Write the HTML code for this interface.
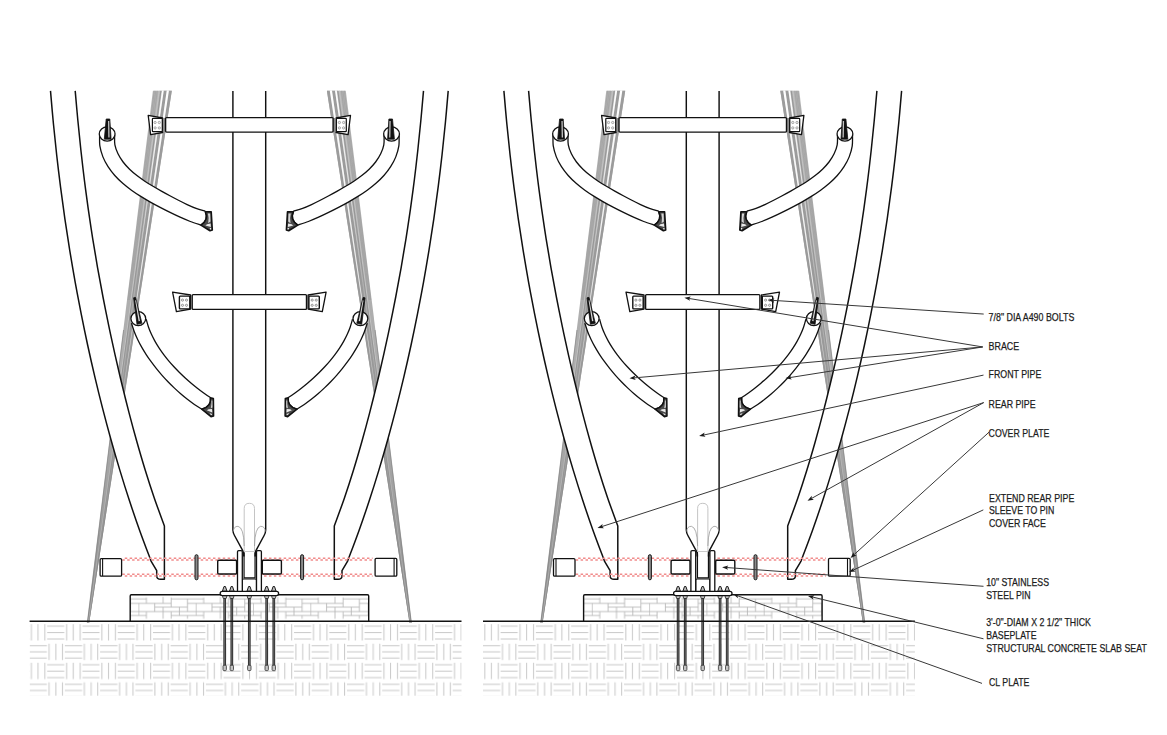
<!DOCTYPE html>
<html><head><meta charset="utf-8"><title>Tower base detail</title>
<style>
html,body{margin:0;padding:0;background:#fff;}
body{width:1167px;height:735px;overflow:hidden;font-family:"Liberation Sans",sans-serif;}
svg{display:block;}
svg text{font-family:"Liberation Sans",sans-serif;font-size:10.8px;fill:#1c1c1c;stroke:#1c1c1c;stroke-width:0.25px;}
</style></head>
<body>
<svg width="1167" height="735" viewBox="0 0 1167 735">
<defs>
<linearGradient id="gg1" gradientUnits="userSpaceOnUse" x1="0" y1="90" x2="0" y2="285"><stop offset="0" stop-color="#fff"/><stop offset="0.5" stop-color="#e6e6e6"/><stop offset="1" stop-color="#c4c4c4"/></linearGradient>
<linearGradient id="gg2" gradientUnits="userSpaceOnUse" x1="0" y1="90" x2="0" y2="400"><stop offset="0" stop-color="#fff"/><stop offset="0.6" stop-color="#efefef"/><stop offset="1" stop-color="#c0c0c0"/></linearGradient>
<linearGradient id="bg1" gradientUnits="userSpaceOnUse" x1="0" y1="90" x2="0" y2="622"><stop offset="0" stop-color="#b3b3b3"/><stop offset="0.6" stop-color="#acacac"/><stop offset="1" stop-color="#8e8e8e"/></linearGradient>
<linearGradient id="bg2" gradientUnits="userSpaceOnUse" x1="0" y1="90" x2="0" y2="622"><stop offset="0" stop-color="#9c9c9c"/><stop offset="0.6" stop-color="#989898"/><stop offset="1" stop-color="#848484"/></linearGradient>
<pattern id="hatch" patternUnits="userSpaceOnUse" x="29.6" y="622.2" width="35.26" height="38.6">
<path d="M1.8 1.9V18.2M8.4 1.9V18.2M15.3 1.9V18.2M17.6 4H34.7M17.6 10.3H34.7M17.6 16.8H34.7M0 23.6H17.3M0 29.7H17.3M0 35.9H17.3M19.5 21.5V37.8M26.3 21.5V37.8M32.9 21.5V37.8" stroke="#c8c8c8" stroke-width="1" fill="none"/>
</pattern>
<pattern id="brick" patternUnits="userSpaceOnUse" x="138.4" y="594.8" width="57.3" height="26.4"><path d="M0 4.1H8M32.8 4.1H57.3M0 8.6H32.8M49.2 8.6H57.3M16.3 12.3H49.2M0 16.8H57.3M0 20.7H8M32.8 20.7H57.3M0.3 8.6V20.7M8 2.7V8.6M8 16.8V24M16.3 8.6V16.8M24.7 2.1V8.6M24.7 12.3V24M32.8 2.7V12.3M32.8 16.8V24M41 12.3V20.7M49.1 4.1V16.8M49.1 20.7V24" stroke="#b2b2b2" stroke-width="0.8" fill="none"/></pattern>
</defs>
<rect x="0" y="0" width="1167" height="735" fill="#fff"/>
<g id="tower">
<rect x="29.6" y="622" width="431.9" height="73.7" fill="url(#hatch)"/>
<g id="hband">
<path d="M152.9 90.7L171.8 90.7L89.2 622.8L87.1 622.8Z" fill="url(#bg1)"/>
<path d="M163.7 90.7L166.8 90.7L88.7 622.8L88.2 622.8Z" fill="url(#bg2)"/>
<path d="M168.8 90.7L171.8 90.7L89.2 622.8L88.7 622.8Z" fill="url(#bg2)"/>
<path d="M161.9 90.7L163.7 90.7L135.52 285Z" fill="url(#gg1)"/>
<path d="M166.7 90.7L168.9 90.7L121.85 400Z" fill="url(#gg2)"/>
<path d="M154.3 90.7L127.87 300" stroke="#989898" stroke-width="0.5"/>
<path d="M155.8 90.7L128.86 300" stroke="#9b9b9b" stroke-width="0.5"/>
<path d="M157.3 90.7L129.84 300" stroke="#989898" stroke-width="0.5"/>
<path d="M159.2 90.7L114.95 420" stroke="#c4c4c4" stroke-width="0.9"/>
<path d="M160.9 90.7L115.72 420" stroke="#929292" stroke-width="0.9"/>
<path d="M123.56 330L87.3 622.8" stroke="#7a7a7a" stroke-width="0.6" fill="none"/>
<path d="M119.58 400L88.3 622.8" stroke="#c9c9c9" stroke-width="0.5" fill="none"/>
</g>
<use href="#hband" transform="translate(498.7 0) scale(-1 1)"/>
<g id="hrear">
<path d="M50.5 90.9C50.97 96.25 52.32 112.31 53.35 122.99C54.38 133.67 55.48 144.34 56.68 154.99C57.88 165.65 59.15 176.29 60.52 186.93C61.89 197.56 63.34 208.18 64.88 218.79C66.43 229.41 68.06 240.01 69.78 250.59C71.5 261.18 73.31 271.76 75.21 282.32C77.12 292.88 79.11 303.42 81.2 313.95C83.28 324.48 85.46 334.99 87.74 345.48C90.01 355.97 92.38 366.44 94.84 376.88C97.31 387.32 99.87 397.75 102.54 408.14C105.21 418.52 107.97 428.89 110.85 439.22C113.73 449.55 116.71 459.85 119.82 470.11C122.92 480.37 126.13 490.6 129.48 500.78C132.83 510.97 136.3 521.12 139.92 531.22C143.54 541.32 149.32 556.37 151.2 561.4L156.7 570.6L156.7 576.2Q157 579.3 160.6 579.3L164.4 579.3L164.4 525.9C162.71 521.25 157.48 507.33 154.26 497.97C151.05 488.61 148.03 479.19 145.11 469.74C142.19 460.29 139.43 450.79 136.74 441.26C134.06 431.74 131.49 422.18 129 412.61C126.51 403.03 124.12 393.42 121.8 383.8C119.47 374.18 117.23 364.54 115.06 354.88C112.89 345.23 110.8 335.55 108.78 325.86C106.76 316.17 104.81 306.47 102.94 296.75C101.07 287.03 99.27 277.3 97.55 267.56C95.84 257.81 94.2 248.05 92.65 238.28C91.09 228.51 89.62 218.72 88.23 208.93C86.84 199.13 85.54 189.32 84.31 179.5C83.09 169.68 81.95 159.84 80.87 150.01C79.8 140.17 78.81 130.32 77.86 120.46C76.92 110.61 75.64 95.83 75.2 90.9Z" fill="#fff" stroke="none"/>
<path d="M50.5 90.9C50.97 96.25 52.32 112.31 53.35 122.99C54.38 133.67 55.48 144.34 56.68 154.99C57.88 165.65 59.15 176.29 60.52 186.93C61.89 197.56 63.34 208.18 64.88 218.79C66.43 229.41 68.06 240.01 69.78 250.59C71.5 261.18 73.31 271.76 75.21 282.32C77.12 292.88 79.11 303.42 81.2 313.95C83.28 324.48 85.46 334.99 87.74 345.48C90.01 355.97 92.38 366.44 94.84 376.88C97.31 387.32 99.87 397.75 102.54 408.14C105.21 418.52 107.97 428.89 110.85 439.22C113.73 449.55 116.71 459.85 119.82 470.11C122.92 480.37 126.13 490.6 129.48 500.78C132.83 510.97 136.3 521.12 139.92 531.22C143.54 541.32 149.32 556.37 151.2 561.4L156.7 570.6L156.7 576.2Q157 579.3 160.6 579.3L164.4 579.3L164.4 525.9C162.71 521.25 157.48 507.33 154.26 497.97C151.05 488.61 148.03 479.19 145.11 469.74C142.19 460.29 139.43 450.79 136.74 441.26C134.06 431.74 131.49 422.18 129 412.61C126.51 403.03 124.12 393.42 121.8 383.8C119.47 374.18 117.23 364.54 115.06 354.88C112.89 345.23 110.8 335.55 108.78 325.86C106.76 316.17 104.81 306.47 102.94 296.75C101.07 287.03 99.27 277.3 97.55 267.56C95.84 257.81 94.2 248.05 92.65 238.28C91.09 228.51 89.62 218.72 88.23 208.93C86.84 199.13 85.54 189.32 84.31 179.5C83.09 169.68 81.95 159.84 80.87 150.01C79.8 140.17 78.81 130.32 77.86 120.46C76.92 110.61 75.64 95.83 75.2 90.9" fill="none" stroke="#111" stroke-width="1.5" stroke-linejoin="round"/>
</g>
<use href="#hrear" transform="translate(498.7 0) scale(-1 1)"/>
<path d="M232.9 90.9L232.9 530Q233 533 234.5 535.5L243.7 552.3L255 552.3L264.1 535.5Q265.6 533 265.7 530L265.7 90.9Z" fill="#fff"/>
<g id="hbrace">
<path d="M99.6 135C99.65 136.87 99.35 142.55 99.9 146.2C100.45 149.84 101.56 153.46 102.91 156.88C104.27 160.3 106.07 163.6 108.05 166.7C110.03 169.81 112.35 172.75 114.79 175.52C117.24 178.29 119.94 180.87 122.72 183.32C125.5 185.78 128.46 188.05 131.46 190.23C134.47 192.42 137.6 194.45 140.75 196.42C143.9 198.4 147.12 200.25 150.36 202.08C153.59 203.91 156.87 205.65 160.15 207.38C163.44 209.1 166.74 210.78 170.07 212.41C173.39 214.05 176.73 215.66 180.11 217.18C183.48 218.69 186.87 220.19 190.34 221.5C193.8 222.8 199.14 224.42 200.9 225Q209 220 205.3 211.3C203.76 210.81 199.1 209.5 196.07 208.38C193.05 207.25 190.09 205.89 187.15 204.54C184.21 203.18 181.32 201.71 178.44 200.24C175.56 198.78 172.72 197.27 169.88 195.75C167.04 194.22 164.22 192.69 161.41 191.12C158.6 189.55 155.8 187.97 153.04 186.31C150.28 184.66 147.52 182.98 144.83 181.18C142.15 179.39 139.47 177.54 136.93 175.55C134.38 173.55 131.87 171.46 129.56 169.2C127.26 166.95 125.02 164.56 123.09 162C121.16 159.44 119.36 156.71 118 153.84C116.63 150.97 115.47 147.92 114.9 144.78C114.34 141.64 114.65 136.63 114.6 135" fill="#fff" stroke="#111" stroke-width="1.3" stroke-linejoin="round"/>
<path d="M205.3 211.7L211.2 211.7L212.3 230L210 230.8L200.9 225.1Q209 220 205.3 211.7Z" fill="#4a4a4a" stroke="#111" stroke-width="1.6" stroke-linejoin="round"/>
<path d="M207.9 213.6L210.2 213.4L210.5 221.6L208.2 223.2Q209.2 218 207.9 213.6Z" fill="#d6d6d6"/>
<path d="M207 224.3L210.6 223.4L210.9 226.9L205.4 225.6Z" fill="#e8e8e8"/>
<path d="M209.6 228.2L211.1 227.8L211.2 229.5L210.2 229.6Z" fill="#f4f4f4"/>
<ellipse cx="107.15" cy="134" rx="7.9" ry="7.1" fill="#fff" stroke="#111" stroke-width="1.3"/>
<path d="M106.2 119L109.8 119L111.1 139.2L104.3 139.2Z" fill="#111" stroke="#111" stroke-width="0.8" stroke-linejoin="round"/>
<path d="M108 121L109.3 121L109.6 137.5L108.3 137.5Z" fill="#c4c4c4"/>
<path d="M131.4 323.1C131.87 324.49 133.16 328.71 134.2 331.43C135.25 334.15 136.41 336.81 137.66 339.43C138.91 342.04 140.26 344.6 141.68 347.12C143.11 349.64 144.62 352.11 146.2 354.54C147.77 356.97 149.43 359.36 151.13 361.71C152.84 364.06 154.62 366.37 156.44 368.63C158.26 370.9 160.14 373.13 162.07 375.31C164 377.49 165.98 379.64 168 381.73C170.02 383.83 172.09 385.89 174.2 387.89C176.31 389.89 178.46 391.85 180.66 393.75C182.86 395.65 185.1 397.51 187.39 399.29C189.68 401.07 192.01 402.8 194.39 404.46C196.78 406.11 200.48 408.41 201.7 409.2Q211.8 406.5 210.4 397.5C209.11 396.74 205.83 394.49 203.69 392.93C201.55 391.37 199.44 389.78 197.36 388.15C195.28 386.52 193.23 384.86 191.21 383.16C189.19 381.46 187.2 379.72 185.25 377.94C183.29 376.16 181.37 374.34 179.48 372.48C177.6 370.62 175.75 368.72 173.95 366.78C172.15 364.83 170.39 362.85 168.69 360.82C166.99 358.79 165.33 356.72 163.74 354.6C162.15 352.48 160.62 350.32 159.17 348.11C157.72 345.9 156.33 343.65 155.04 341.34C153.75 339.04 152.54 336.69 151.44 334.29C150.34 331.89 149.33 329.44 148.46 326.95C147.59 324.45 146.58 320.57 146.2 319.3" fill="#fff" stroke="#111" stroke-width="1.3" stroke-linejoin="round"/>
<path d="M210.4 397.8L213.4 398.4L213.6 416L211 416.7L201.7 409.2Q211.8 406.5 210.4 397.8Z" fill="#4a4a4a" stroke="#111" stroke-width="1.5" stroke-linejoin="round"/>
<path d="M211.4 400.5L212.4 400.6L212.5 407.5L210.8 408.2Q211.8 404 211.4 400.5Z" fill="#d6d6d6"/>
<path d="M208.6 409.3L212 408.9L212.3 412.4L206.8 410.3Z" fill="#ededed"/>
<path d="M209.5 413L212 413.9L212 415L210.8 415Z" fill="#ddd"/>
<ellipse cx="138.3" cy="318.6" rx="7.4" ry="6.9" fill="#fff" stroke="#111" stroke-width="1.3"/>
<path d="M133.6 297.8L135.6 297.4L141.9 323.2L137 324.2Z" fill="#111" stroke="#111" stroke-width="0.8" stroke-linejoin="round"/>
<path d="M135.2 300.5L136 300.3L140 321L138.6 321.3Z" fill="#d8d8d8"/>
</g>
<use href="#hbrace" transform="translate(498.7 0) scale(-1 1)"/>
<path d="M232.9 90.9L232.9 530Q233 533 234.5 535.5L243.7 552.3M255 552.3L264.1 535.5Q265.6 533 265.7 530L265.7 90.9" fill="none" stroke="#111" stroke-width="1.45" stroke-linejoin="round"/>
<path d="M244.2 553L244.2 508.5Q244.2 503.3 249.35 503.3Q254.5 503.3 254.5 508.5L254.5 553" fill="none" stroke="#bdbdbd" stroke-width="0.9"/>
<path d="M233.3 531.5Q233.6 526.3 238 526.3Q243.8 527.5 244.2 546" fill="none" stroke="#999" stroke-width="0.8"/>
<path d="M265.3 531.5Q265 526.3 260.6 526.3Q254.9 527.5 254.5 546" fill="none" stroke="#999" stroke-width="0.8"/>
<path d="M244.4 551.5L254.7 551.5" stroke="#c4c4c4" stroke-width="0.9"/>
<g id="hbrk">
<path d="M148.2 115.3L162.6 118L162.6 132.5L150.6 134.7Z" fill="#fff" stroke="#111" stroke-width="1.3" stroke-linejoin="round"/>
<rect x="152.4" y="118.3" width="9.9" height="13.4" rx="0.8" fill="#fff" stroke="#111" stroke-width="1.2"/>
<circle cx="155.1" cy="122.5" r="1.15" fill="#eee" stroke="#8a8a8a" stroke-width="0.7"/>
<circle cx="159.3" cy="122.5" r="1.15" fill="#eee" stroke="#8a8a8a" stroke-width="0.7"/>
<circle cx="155.1" cy="127.9" r="1.15" fill="#eee" stroke="#8a8a8a" stroke-width="0.7"/>
<circle cx="159.3" cy="127.9" r="1.15" fill="#eee" stroke="#8a8a8a" stroke-width="0.7"/>
<rect x="163.1" y="118" width="2.3" height="14" fill="#8c8c8c"/>
<path d="M172.6 292.2L190.6 295L190.6 309.1L176.4 311.7Z" fill="#fff" stroke="#111" stroke-width="1.3" stroke-linejoin="round"/>
<rect x="179.4" y="296.1" width="10.4" height="12.8" rx="0.8" fill="#fff" stroke="#111" stroke-width="1.4"/>
<circle cx="182.5" cy="300.1" r="1.1" fill="#eee" stroke="#777" stroke-width="0.7"/>
<circle cx="186.5" cy="300.1" r="1.1" fill="#eee" stroke="#777" stroke-width="0.7"/>
<circle cx="182.5" cy="305.3" r="1.1" fill="#eee" stroke="#777" stroke-width="0.7"/>
<circle cx="186.5" cy="305.3" r="1.1" fill="#eee" stroke="#777" stroke-width="0.7"/>
</g>
<use href="#hbrk" transform="translate(498.7 0) scale(-1 1)"/>
<rect x="165.6" y="117.6" width="167.5" height="14.5" rx="1" fill="#fff" stroke="#111" stroke-width="1.4"/>
<rect x="192.2" y="294.6" width="114.3" height="14.8" rx="1" fill="#fff" stroke="#111" stroke-width="1.4"/>
<path d="M124.75 558.25L236.6 558.25" stroke="#f18c8c" stroke-width="1.6" stroke-dasharray="2.5 2.4"/><path d="M122.3 559.95L236.6 559.95" stroke="#f18c8c" stroke-width="1.6" stroke-dasharray="2.5 2.4"/><path d="M264.05 558.25L372.6 558.25" stroke="#f18c8c" stroke-width="1.6" stroke-dasharray="2.5 2.4"/><path d="M261.6 559.95L372.6 559.95" stroke="#f18c8c" stroke-width="1.6" stroke-dasharray="2.5 2.4"/>
<path d="M122.3 574.25L236.6 574.25" stroke="#f18c8c" stroke-width="1.6" stroke-dasharray="2.5 2.4"/><path d="M124.75 575.95L236.6 575.95" stroke="#f18c8c" stroke-width="1.6" stroke-dasharray="2.5 2.4"/><path d="M261.6 574.25L372.6 574.25" stroke="#f18c8c" stroke-width="1.6" stroke-dasharray="2.5 2.4"/><path d="M264.05 575.95L372.6 575.95" stroke="#f18c8c" stroke-width="1.6" stroke-dasharray="2.5 2.4"/>
<rect x="130.2" y="594.8" width="238.5" height="26.4" fill="#fff"/>
<rect x="130.2" y="594.8" width="238.5" height="26.4" fill="url(#brick)"/>
<path d="M130.2 621.2L130.2 596Q130.2 594.8 131.4 594.8L367.5 594.8Q368.7 594.8 368.7 596L368.7 621.2" fill="none" stroke="#111" stroke-width="1.4"/>
<rect x="100.1" y="558.6" width="21.5" height="17.5" rx="1.2" fill="#fff" stroke="#111" stroke-width="1.3"/>
<path d="M102.6 558.6L102.6 576.1" stroke="#111" stroke-width="1.1"/>
<rect x="375.1" y="558.4" width="21.7" height="17.7" rx="1.2" fill="#fff" stroke="#111" stroke-width="1.3"/>
<path d="M394.1 558.4L394.1 576.1" stroke="#111" stroke-width="1.1"/>
<rect x="195" y="554.7" width="3" height="25.1" rx="1.5" fill="#8c8c8c" stroke="#111" stroke-width="0.95"/>
<rect x="300.6" y="554.7" width="3" height="25.1" rx="1.5" fill="#8c8c8c" stroke="#111" stroke-width="0.95"/>
<rect x="217.7" y="560.2" width="18.9" height="13.8" rx="1.2" fill="#fff" stroke="#111" stroke-width="1.4"/>
<rect x="262.3" y="560.2" width="19.1" height="13.8" rx="1.2" fill="#fff" stroke="#111" stroke-width="1.4"/>
<path d="M242.3 590.8L242.3 580.2Q242.3 579 243.5 579L255.3 579Q256.5 579 256.5 580.2L256.5 590.8" fill="#fff" stroke="#111" stroke-width="1.2"/>
<path d="M237.5 591.4L237.5 551.8Q237.5 550.6 238.7 550.6L241.1 550.6Q242.3 550.6 242.3 551.8L242.3 591.4" fill="#fff" stroke="#111" stroke-width="1.3"/>
<path d="M256.5 591.4L256.5 551.8Q256.5 550.6 257.7 550.6L260.2 550.6Q261.4 550.6 261.4 551.8L261.4 591.4" fill="#fff" stroke="#111" stroke-width="1.3"/>
<path d="M244.05 553L244.05 577.9L255.05 577.9L255.05 553" fill="none" stroke="#111" stroke-width="1.2"/>
<path d="M243.7 552L243.9 556.5M255.4 552L255.2 556.5" fill="none" stroke="#111" stroke-width="1.7"/>
<path d="M224.7 596L224.7 666" stroke="#2a2a2a" stroke-width="2.7"/>
<path d="M224.7 599L224.7 665" stroke="#8c8c8c" stroke-width="0.7"/>
<path d="M222.5 595.7L226.9 595.7L226.3 598.3L223.1 598.3Z" fill="#ddd" stroke="#222" stroke-width="0.8"/>
<rect x="223" y="665.2" width="3.4" height="5.4" rx="1" fill="#c4c4c4" stroke="#333" stroke-width="0.8"/>
<path d="M222.4 591.2L224 586.5L225.4 586.5L227 591.2Z" fill="#bdbdbd" stroke="#1a1a1a" stroke-width="1" stroke-linejoin="round"/>
<path d="M231.8 596L231.8 666" stroke="#2a2a2a" stroke-width="2.7"/>
<path d="M231.8 599L231.8 665" stroke="#8c8c8c" stroke-width="0.7"/>
<path d="M229.6 595.7L234 595.7L233.4 598.3L230.2 598.3Z" fill="#ddd" stroke="#222" stroke-width="0.8"/>
<rect x="230.1" y="665.2" width="3.4" height="5.4" rx="1" fill="#c4c4c4" stroke="#333" stroke-width="0.8"/>
<path d="M229.5 591.2L231.1 586.5L232.5 586.5L234.1 591.2Z" fill="#bdbdbd" stroke="#1a1a1a" stroke-width="1" stroke-linejoin="round"/>
<path d="M249.3 596L249.3 666" stroke="#2a2a2a" stroke-width="2.7"/>
<path d="M249.3 599L249.3 665" stroke="#8c8c8c" stroke-width="0.7"/>
<path d="M247.1 595.7L251.5 595.7L250.9 598.3L247.7 598.3Z" fill="#ddd" stroke="#222" stroke-width="0.8"/>
<rect x="247.6" y="665.2" width="3.4" height="5.4" rx="1" fill="#c4c4c4" stroke="#333" stroke-width="0.8"/>
<path d="M247 591.2L248.6 586.5L250 586.5L251.6 591.2Z" fill="#bdbdbd" stroke="#1a1a1a" stroke-width="1" stroke-linejoin="round"/>
<path d="M266.7 596L266.7 666" stroke="#2a2a2a" stroke-width="2.7"/>
<path d="M266.7 599L266.7 665" stroke="#8c8c8c" stroke-width="0.7"/>
<path d="M264.5 595.7L268.9 595.7L268.3 598.3L265.1 598.3Z" fill="#ddd" stroke="#222" stroke-width="0.8"/>
<rect x="265" y="665.2" width="3.4" height="5.4" rx="1" fill="#c4c4c4" stroke="#333" stroke-width="0.8"/>
<path d="M264.4 591.2L266 586.5L267.4 586.5L269 591.2Z" fill="#bdbdbd" stroke="#1a1a1a" stroke-width="1" stroke-linejoin="round"/>
<path d="M273.8 596L273.8 666" stroke="#2a2a2a" stroke-width="2.7"/>
<path d="M273.8 599L273.8 665" stroke="#8c8c8c" stroke-width="0.7"/>
<path d="M271.6 595.7L276 595.7L275.4 598.3L272.2 598.3Z" fill="#ddd" stroke="#222" stroke-width="0.8"/>
<rect x="272.1" y="665.2" width="3.4" height="5.4" rx="1" fill="#c4c4c4" stroke="#333" stroke-width="0.8"/>
<path d="M271.5 591.2L273.1 586.5L274.5 586.5L276.1 591.2Z" fill="#bdbdbd" stroke="#1a1a1a" stroke-width="1" stroke-linejoin="round"/>
<rect x="220.2" y="591.4" width="58.4" height="4.3" rx="2.1" fill="#fff" stroke="#111" stroke-width="1.3"/>
<path d="M29.6 621.2L461.5 621.2" stroke="#111" stroke-width="1.5"/>
</g>
<use href="#tower" x="453.4"/>
<g id="leaders">
<path d="M983.7 314.05L772.95 300.36" stroke="#383838" stroke-width="1" fill="none"/><path d="M768.2 300.05L774.14 302.64L772.95 300.36L774.43 298.25Z" fill="#1a1a1a"/>
<path d="M982.7 346.95L689.09 298.48" stroke="#383838" stroke-width="1" fill="none"/><path d="M684.4 297.7L690.06 300.86L689.09 298.48L690.78 296.52Z" fill="#1a1a1a"/>
<path d="M982.7 346.95L634.24 377.88" stroke="#383838" stroke-width="1" fill="none"/><path d="M629.5 378.3L635.77 379.95L634.24 377.88L635.38 375.57Z" fill="#1a1a1a"/>
<path d="M982.7 346.95L790.1 377.55" stroke="#383838" stroke-width="1" fill="none"/><path d="M785.4 378.3L791.77 379.52L790.1 377.55L791.08 375.17Z" fill="#1a1a1a"/>
<path d="M983.5 375.1L703.75 435" stroke="#383838" stroke-width="1" fill="none"/><path d="M699.1 436L705.53 436.87L703.75 435L704.6 432.57Z" fill="#1a1a1a"/>
<path d="M983.7 402.6L811.66 498.39" stroke="#383838" stroke-width="1" fill="none"/><path d="M807.5 500.7L813.9 499.65L811.66 498.39L811.76 495.81Z" fill="#1a1a1a"/>
<path d="M983.7 402.6L602.03 526.53" stroke="#383838" stroke-width="1" fill="none"/><path d="M597.5 528L603.98 528.21L602.03 526.53L602.62 524.02Z" fill="#1a1a1a"/>
<path d="M989 432.2L854.02 554.7" stroke="#383838" stroke-width="1" fill="none"/><path d="M850.5 557.9L856.5 555.43L854.02 554.7L853.54 552.17Z" fill="#1a1a1a"/>
<path d="M983.3 509.9L853.42 570" stroke="#383838" stroke-width="1" fill="none"/><path d="M849.1 572L855.56 571.43L853.42 570L853.71 567.44Z" fill="#1a1a1a"/>
<path d="M983.5 586.3L726.85 567.55" stroke="#383838" stroke-width="1" fill="none"/><path d="M722.1 567.2L728.02 569.84L726.85 567.55L728.34 565.45Z" fill="#1a1a1a"/>
<path d="M983.5 638.8L812.62 597.03" stroke="#383838" stroke-width="1" fill="none"/><path d="M808 595.9L813.4 599.49L812.62 597.03L814.45 595.21Z" fill="#1a1a1a"/>
<path d="M982 683.4L737.48 595.71" stroke="#383838" stroke-width="1" fill="none"/><path d="M733 594.1L738 598.23L737.48 595.71L739.48 594.09Z" fill="#1a1a1a"/>
</g>
<g id="labels">
<text x="988.6" y="321" textLength="85.7" lengthAdjust="spacingAndGlyphs">7/8" DIA A490 BOLTS</text>
<text x="988.6" y="350" textLength="30.6" lengthAdjust="spacingAndGlyphs">BRACE</text>
<text x="988.6" y="378" textLength="52.7" lengthAdjust="spacingAndGlyphs">FRONT PIPE</text>
<text x="988.6" y="407.8" textLength="46.9" lengthAdjust="spacingAndGlyphs">REAR PIPE</text>
<text x="988.6" y="436.7" textLength="60.8" lengthAdjust="spacingAndGlyphs">COVER PLATE</text>
<text x="989" y="501.5" textLength="85.3" lengthAdjust="spacingAndGlyphs">EXTEND REAR PIPE</text>
<text x="989" y="514.4" textLength="65.2" lengthAdjust="spacingAndGlyphs">SLEEVE TO PIN</text>
<text x="989" y="527.3" textLength="56.8" lengthAdjust="spacingAndGlyphs">COVER FACE</text>
<text x="986.2" y="586.2" textLength="62.8" lengthAdjust="spacingAndGlyphs">10" STAINLESS</text>
<text x="986.2" y="599" textLength="44.3" lengthAdjust="spacingAndGlyphs">STEEL PIN</text>
<text x="986.2" y="625.7" textLength="104.7" lengthAdjust="spacingAndGlyphs">3'-0"-DIAM X 2 1/2" THICK</text>
<text x="986.2" y="638.5" textLength="50.3" lengthAdjust="spacingAndGlyphs">BASEPLATE</text>
<text x="986.2" y="652" textLength="160.6" lengthAdjust="spacingAndGlyphs">STRUCTURAL CONCRETE SLAB SEAT</text>
<text x="989" y="685.8" textLength="40.4" lengthAdjust="spacingAndGlyphs">CL PLATE</text>
</g>
</svg>
</body></html>
